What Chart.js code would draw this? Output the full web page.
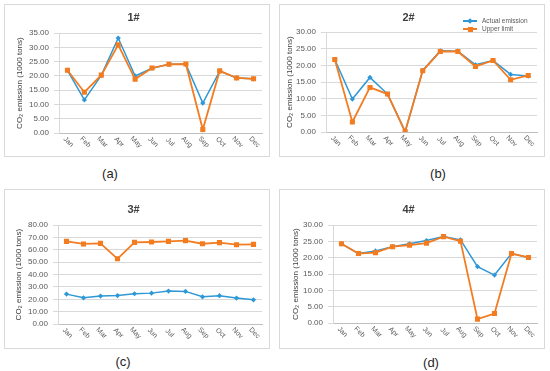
<!DOCTYPE html>
<html>
<head>
<meta charset="utf-8">
<script src="https://cdn.jsdelivr.net/npm/chart.js@4/dist/chart.umd.min.js"></script>
<style>
  html, body { margin: 0; padding: 0; background: #fff; }
  body { width: 550px; height: 371px; position: relative; overflow: hidden;
         font-family: "Liberation Sans", Arial, sans-serif; }
  .panel { position: absolute; border: 1px solid #d9d9d9; background: #fff; }
  .panel canvas { display: block; }
  .cap { position: absolute; font-size: 13px; color: #1f1f1f; transform: translate(-50%, -50%); }
  .legend { position: absolute; font-size: 6.5px; color: #595959; }
  .legend .row { position: absolute; left: 0; white-space: nowrap; height: 8px; }
  .legend .ln { position: absolute; left: 0; top: 3px; width: 14px; height: 1.5px; }
  .legend .mk { position: absolute; }
  .legend .tx { position: absolute; left: 19px; top: 0; line-height: 8px; }
</style>
</head>
<body>

<div class="panel" style="left:4px; top:4px;"><canvas id="c1" width="264" height="151"></canvas></div>
<div class="panel" style="left:279px; top:4px;"><canvas id="c2" width="264" height="151"></canvas></div>
<div class="panel" style="left:4px; top:189px;"><canvas id="c3" width="264" height="158"></canvas></div>
<div class="panel" style="left:279px; top:189px;"><canvas id="c4" width="264" height="158"></canvas></div>

<div class="legend" id="legend2" style="left:463px; top:17px;"></div>

<div class="cap" style="left:110px; top:173px;">(a)</div>
<div class="cap" style="left:438px; top:173px;">(b)</div>
<div class="cap" style="left:123px; top:361px;">(c)</div>
<div class="cap" style="left:431px; top:362px;">(d)</div>

<script>
// data
const months = ["Jan", "Feb", "Mar", "Apr", "May", "Jun", "Jul", "Aug", "Sep", "Oct", "Nov", "Dec"];
const seriesNames = ["Actual emission", "Upper limit"];
const panelTitles = ["1#", "2#", "3#", "4#"];

const actual1 = [22.0, 11.6, 20.2, 33.3, 20.0, 22.7, 24.1, 24.1, 10.5, 21.7, 19.3, 19.0];
const limit1  = [22.0, 14.3, 20.3, 30.9, 18.9, 22.8, 24.1, 24.2, 1.2, 21.8, 19.3, 19.0];

const actual2 = [21.8, 9.9, 16.4, 11.4, 0.1, 18.5, 24.4, 24.3, 20.2, 21.5, 17.3, 16.8];
const limit2  = [21.8, 3.0, 13.4, 11.4, 0.1, 18.4, 24.2, 24.2, 19.7, 21.5, 15.7, 17.0];

const actual3 = [24.2, 21.2, 22.6, 23.0, 24.5, 25.0, 26.7, 26.4, 22.0, 22.9, 21.0, 19.6];
const limit3  = [66.9, 64.8, 65.3, 52.8, 66.1, 66.4, 66.9, 67.5, 65.0, 65.9, 64.2, 64.5];

const actual4 = [24.3, 21.3, 22.1, 23.4, 24.3, 25.3, 26.5, 25.5, 17.3, 14.7, 21.3, 20.1];
const limit4  = [24.3, 21.3, 21.6, 23.4, 23.9, 24.5, 26.5, 25.1, 1.2, 2.9, 21.3, 20.1];

const colors = {
  actual: "#2e98d6",
  limit: "#f47c20",
  grid: "#d9d9d9",
  text: "#595959"
};

Chart.defaults.font.family = "'Liberation Sans', Arial, sans-serif";
Chart.defaults.color = colors.text;

// month labels, slanted the excel way (top-left to bottom-right)
const slantedMonths = {
  id: "slantedMonths",
  afterDraw(chart) {
    const x = chart.scales.x;
    const ctx = chart.ctx;
    ctx.save();
    ctx.font = "7px 'Liberation Sans', Arial, sans-serif";
    ctx.fillStyle = colors.text;
    ctx.textAlign = "center";
    ctx.textBaseline = "middle";
    chart.data.labels.forEach((m, i) => {
      ctx.save();
      ctx.translate(x.getPixelForValue(i) + 1, x.top + 9);
      ctx.rotate(Math.PI / 4);
      ctx.fillText(m, 0, 0);
      ctx.restore();
    });
    ctx.restore();
  }
};

function makePanel(id, title, actual, limit, opt) {
  return new Chart(document.getElementById(id), {
    type: "line",
    data: {
      labels: months,
      datasets: [
        {
          label: seriesNames[0],
          data: actual,
          borderColor: colors.actual,
          backgroundColor: colors.actual,
          borderWidth: 1.5,
          pointStyle: "rectRot",
          pointRadius: 2.6,
          pointBorderWidth: 0,
          tension: 0,
          order: 2
        },
        {
          label: seriesNames[1],
          data: limit,
          borderColor: colors.limit,
          backgroundColor: colors.limit,
          borderWidth: 1.8,
          pointStyle: "rect",
          pointRadius: 3.6,
          pointBorderWidth: 0,
          tension: 0,
          order: 1
        }
      ]
    },
    options: {
      responsive: false,
      animation: false,
      layout: { padding: { left: 0, right: 7, top: 0, bottom: 0 } },
      plugins: {
        legend: { display: false },
        tooltip: { enabled: false },
        title: {
          display: true,
          text: title,
          color: "#404040",
          font: { size: 11, weight: "bold" },
          padding: opt.titlePad
        }
      },
      scales: {
        x: {
          offset: true,
          grid: { display: false },
          border: { display: true, color: "#bfbfbf" },
          ticks: { display: false },
          afterFit(s) { s.height = opt.xHeight; }
        },
        y: {
          min: 0,
          max: opt.yMax,
          ticks: {
            stepSize: opt.step,
            autoSkip: false,
            padding: 5,
            font: { size: 8 },
            callback: v => v.toFixed(2)
          },
          grid: { color: colors.grid, tickLength: 5 },
          border: { display: true, color: colors.grid },
          title: {
            display: true,
            text: "CO\u2082 emission (1000 tons)",
            color: "#404040",
            font: { size: 8 },
            padding: { top: opt.axisPad, bottom: 0 }
          },
          afterFit(s) { s.width = opt.yWidth; }
        }
      }
    },
    plugins: [slantedMonths]
  });
}

makePanel("c1", panelTitles[0], actual1, limit1,
  { yMax: 35, step: 5, yWidth: 54, xHeight: 23, axisPad: 10, titlePad: { top: 6, bottom: 9 } });
makePanel("c2", panelTitles[1], actual2, limit2,
  { yMax: 30, step: 5, yWidth: 46, xHeight: 24, axisPad: 5, titlePad: { top: 6, bottom: 8 } });
makePanel("c3", panelTitles[2], actual3, limit3,
  { yMax: 80, step: 10, yWidth: 53, xHeight: 24, axisPad: 9, titlePad: { top: 13, bottom: 9 } });
makePanel("c4", panelTitles[3], actual4, limit4,
  { yMax: 30, step: 5, yWidth: 53, xHeight: 25, axisPad: 11, titlePad: { top: 13, bottom: 9 } });

// legend for panel (b), two stacked rows like the excel one
const legend2 = document.getElementById("legend2");
const legendStyles = [
  { color: colors.actual, mk: "width:4px;height:4px;left:5px;top:2px;transform:rotate(45deg);" },
  { color: colors.limit, mk: "width:5px;height:5px;left:4.5px;top:1.5px;" }
];
seriesNames.forEach((name, i) => {
  const st = legendStyles[i];
  const row = document.createElement("div");
  row.className = "row";
  row.style.top = (i * 8) + "px";
  row.innerHTML =
    '<span class="ln" style="background:' + st.color + '"></span>' +
    '<span class="mk" style="background:' + st.color + ';' + st.mk + '"></span>' +
    '<span class="tx">' + name + '</span>';
  legend2.appendChild(row);
});
</script>
</body>
</html>
